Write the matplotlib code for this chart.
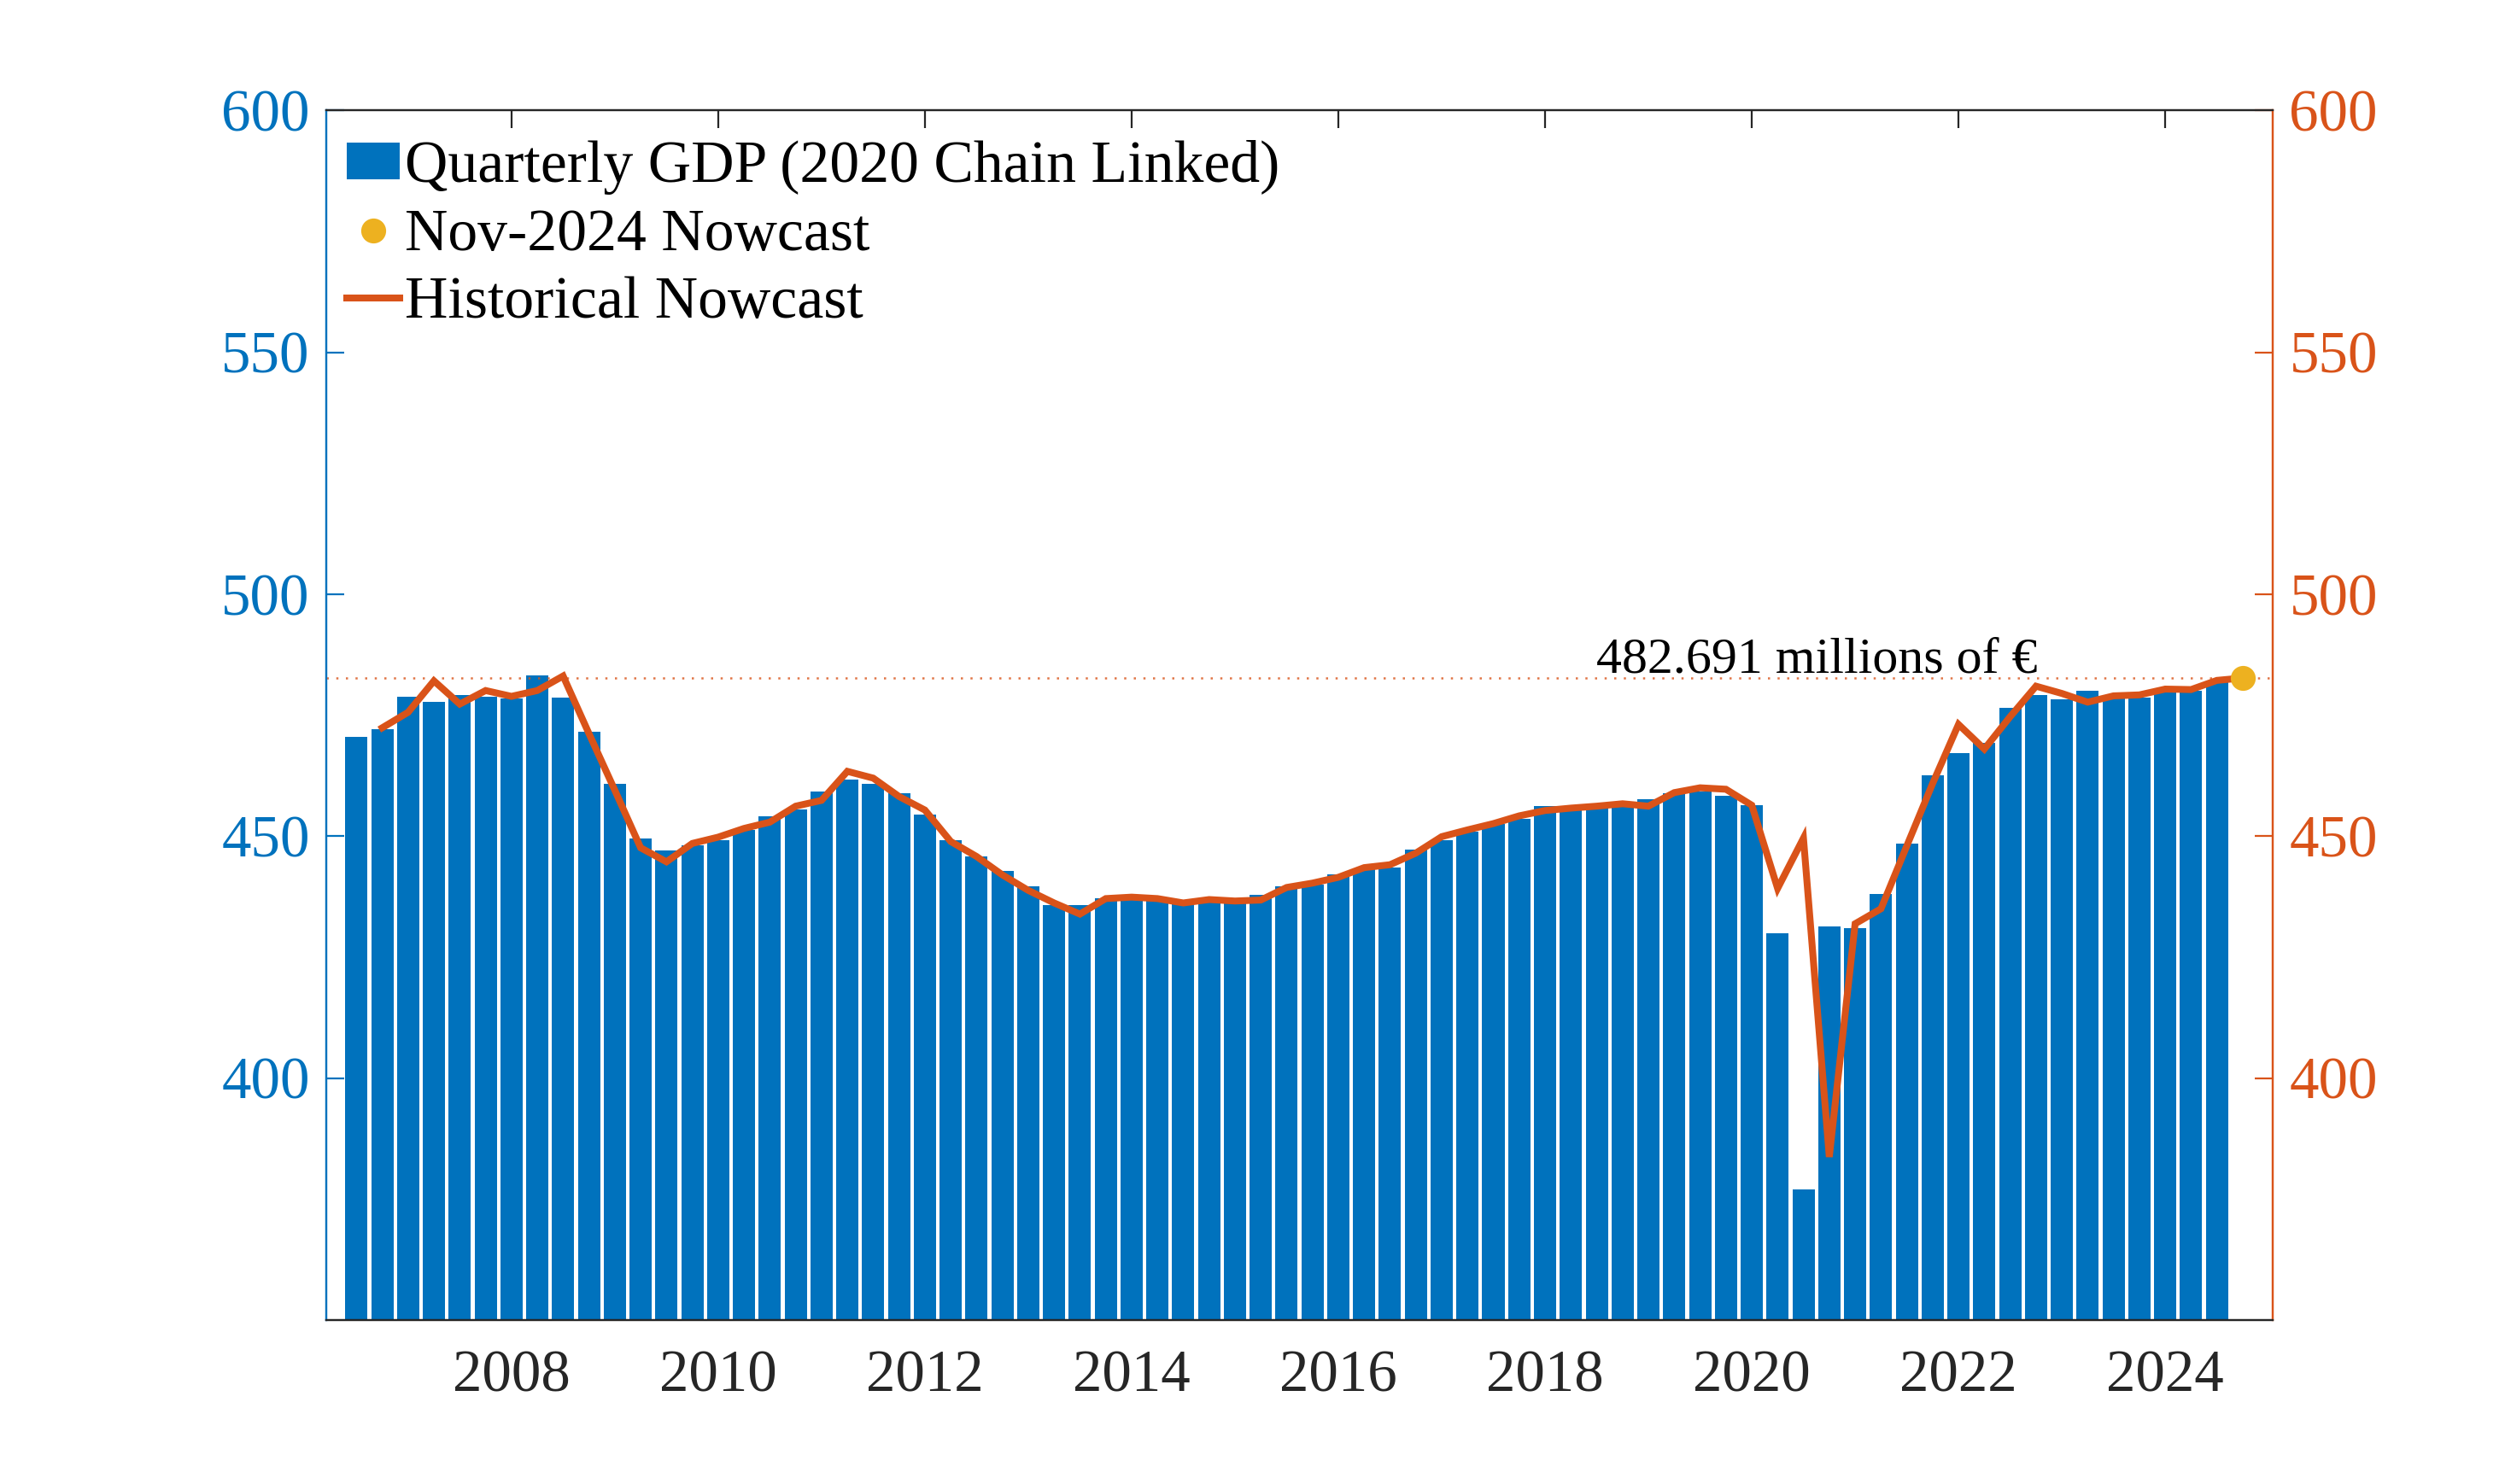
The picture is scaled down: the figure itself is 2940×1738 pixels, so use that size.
import matplotlib
matplotlib.use("Agg")
import matplotlib.pyplot as plt
import numpy as np
from matplotlib.patches import Patch
from matplotlib.lines import Line2D

plt.rcParams['font.family'] = ['Liberation Serif', 'DejaVu Serif']

# Quarterly GDP, 2006Q3 .. 2024Q3 (2020 chain linked, millions of €)
start_year = 2006.5
gdp = [470.6, 472.1, 478.8, 477.8, 479.2, 478.8, 478.4, 483.2, 478.7, 471.6,
       460.8, 449.6, 447.0, 448.1, 449.1, 451.3, 454.1, 455.5, 459.3, 461.7,
       460.9, 458.9, 454.4, 449.2, 445.8, 442.8, 439.6, 435.7, 435.7, 437.1,
       437.4, 437.0, 436.2, 436.6, 436.4, 437.9, 439.6, 440.0, 442.1, 443.3,
       443.5, 447.2, 449.1, 450.9, 452.6, 453.6, 456.2, 455.9, 456.2, 456.6,
       457.6, 458.8, 459.2, 458.3, 456.4, 430.0, 377.0, 431.3, 431.0, 438.1,
       448.5, 462.5, 467.1, 469.3, 476.6, 479.2, 478.2, 480.0, 478.7, 478.7,
       479.8, 480.0, 481.8]

# Historical nowcast, 2006Q4 .. 2024Q4
nowcast_hist = [472.4, 475.6, 482.1, 477.3, 480.1, 478.9, 480.1, 483.1, 471.2,
                459.5, 447.6, 444.7, 448.5, 449.8, 451.6, 452.9, 456.2, 457.4,
                463.4, 462.0, 458.2, 455.4, 448.9, 445.8, 442.0, 438.8, 436.2,
                433.9, 437.1, 437.4, 437.1, 436.2, 436.9, 436.6, 436.8, 439.4,
                440.3, 441.5, 443.5, 444.1, 446.5, 449.9, 451.3, 452.6, 454.2,
                455.3, 455.8, 456.2, 456.7, 456.2, 459.0, 460.0, 459.7, 456.4,
                439.2, 449.6, 383.7, 431.9, 435.0, 448.0, 460.9, 473.1, 468.0,
                474.7, 481.0, 479.5, 477.7, 479.0, 479.2, 480.4, 480.3, 482.2,
                482.691]

nowcast_value = 482.691
xticks = [2008, 2010, 2012, 2014, 2016, 2018, 2020, 2022, 2024]
yticks = [400, 450, 500, 550, 600]

BLUE = '#0072BD'
ORANGE = '#D95319'
YELLOW = '#EDB120'
DARK = '#262626'

x_bar = start_year + 0.25 * np.arange(len(gdp))
x_line = start_year + 0.25 + 0.25 * np.arange(len(nowcast_hist))
x_now = x_line[-1]

fig = plt.figure(figsize=(14.7, 8.69), dpi=200)
ax = fig.add_axes([0.130, 0.1105, 0.7751, 0.8151])
ax.bar(x_bar, gdp, width=0.215, color=BLUE, edgecolor='none', zorder=2)
ax.set_xlim(2006.21, 2025.04)
ax.set_ylim(350, 600)
ax.set_yticks(yticks)
ax.set_xticks(xticks)
ax.set_xticklabels([str(t) for t in xticks])

ax2 = ax.twinx()
ax2.set_ylim(350, 600)
ax2.set_yticks(yticks)
ax2.axhline(nowcast_value, color=ORANGE, lw=0.9, ls=(0, (1, 3.5)), alpha=0.8, zorder=1)
ax2.plot(x_line, nowcast_hist, color=ORANGE, lw=2.9, zorder=3, solid_joinstyle='miter')
ax2.plot([x_now], [nowcast_value], 'o', color=YELLOW, ms=9.5, zorder=4)
ax2.text(2022.76, nowcast_value + 1.1, f'{nowcast_value:.3f} millions of €',
         ha='right', va='baseline', fontsize=21.6, color='black')

fs = 24.8
ax.tick_params(axis='x', direction='in', length=7.6, width=0.8, top=True,
               colors=DARK, labelsize=fs, pad=12.5)
ax.tick_params(axis='y', direction='in', length=7.6, width=0.8, colors=BLUE,
               labelsize=fs, pad=7)
ax2.tick_params(axis='y', direction='in', length=7.6, width=0.8, colors=ORANGE,
                labelsize=fs, pad=7)
for a in (ax, ax2):
    a.spines['top'].set_color(DARK)
    a.spines['bottom'].set_color(DARK)
    a.spines['left'].set_color(BLUE)
    a.spines['right'].set_color(ORANGE)
    for s in a.spines.values():
        s.set_linewidth(0.8)

handles = [Patch(facecolor=BLUE, edgecolor='none'),
           Line2D([], [], ls='none', marker='o', color=YELLOW, ms=9.5),
           Line2D([], [], color=ORANGE, lw=2.9)]
labels = ['Quarterly GDP (2020 Chain Linked)', 'Nov-2024 Nowcast', 'Historical Nowcast']
leg = ax.legend(handles, labels, loc='upper left', bbox_to_anchor=(-0.005, 1.0),
                frameon=False, fontsize=25.1, handlelength=0.9, handleheight=0.56,
                handletextpad=0.08, labelspacing=0.23, borderaxespad=0.3,
                borderpad=0.2)

fig.savefig('out.png', dpi=200)
